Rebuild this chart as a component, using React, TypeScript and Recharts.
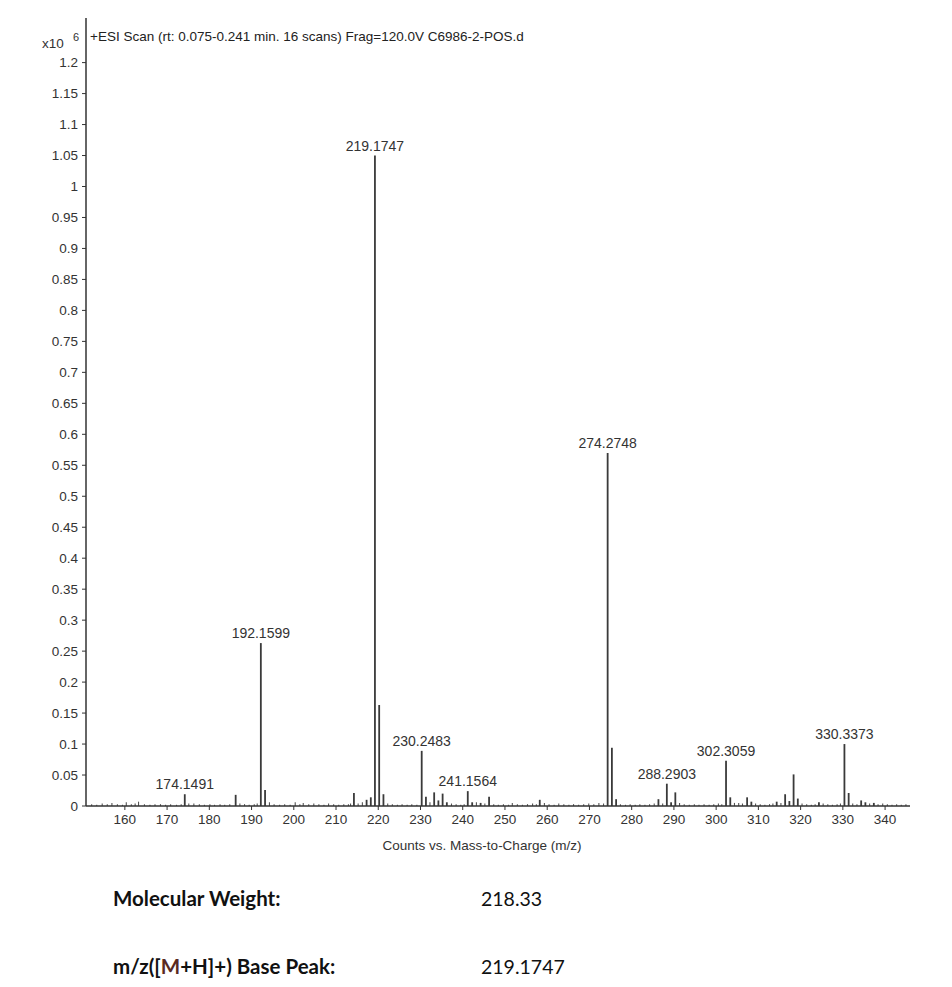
import React from 'react';
import { ComposedChart, Bar, XAxis, YAxis, LabelList } from 'recharts';

// labelled / visible peaks (intensity in x10^6 counts)
const PEAK_MZ = [
  174.1491, 186.2, 192.1599, 193.16, 214.2, 217.2, 218.2, 219.1747, 220.18, 221.19,
  230.2483, 231.25, 233.2, 234.2, 235.2, 236.2, 241.1564, 242.2, 244.2, 246.2,
  258.2, 274.2748, 275.28, 276.28, 286.3, 288.2903, 289.3, 290.3, 302.3059, 303.31,
  307.3, 308.3, 314.3, 316.3, 317.3, 318.3, 319.3, 324.3, 330.3373, 331.34,
  334.3, 335.3, 337.3,
];
const PEAK_INTENSITY = [
  0.019, 0.018, 0.263, 0.026, 0.021, 0.01, 0.014, 1.05, 0.163, 0.019,
  0.089, 0.015, 0.022, 0.009, 0.02, 0.006, 0.024, 0.006, 0.005, 0.015,
  0.01, 0.57, 0.094, 0.011, 0.011, 0.036, 0.006, 0.022, 0.073, 0.014,
  0.014, 0.007, 0.007, 0.019, 0.008, 0.051, 0.012, 0.006, 0.1, 0.021,
  0.009, 0.006, 0.005,
];
const PEAK_LABEL = [
  '174.1491', '', '192.1599', '', '', '', '', '219.1747', '', '',
  '230.2483', '', '', '', '', '', '241.1564', '', '', '',
  '', '274.2748', '', '', '', '288.2903', '', '', '302.3059', '',
  '', '', '', '', '', '', '', '', '330.3373', '',
  '', '', '',
];

// baseline noise
const NOISE_MZ = [
  152.1, 153.3, 154.6, 155.8, 156.9, 158.2, 159.4, 160.3, 161.5, 162.4, 163.2, 164.6, 165.9, 167.1,
  168.4, 169.6, 170.8, 172.2, 173.3, 175.1, 176.3, 177.6, 178.8, 180.1, 181.2, 182.5, 183.6, 184.8,
  187.2, 188.3, 189.4, 190.6, 191.3, 194.2, 195.3, 196.6, 197.8, 199.1, 200.3, 201.4, 202.2, 203.5,
  204.7, 205.9, 207.1, 208.2, 209.4, 210.6, 211.8, 212.9, 213.4, 215.2, 216.2, 222.2, 223.3, 224.5,
  225.6, 226.8, 227.9, 229.1, 232.2, 237.3, 238.4, 239.5, 240.3, 243.2, 245.2, 247.3, 248.4, 249.6,
  250.8, 251.7, 252.9, 254.1, 255.3, 256.5, 257.4, 259.3, 260.4, 261.6, 262.7, 263.9, 265.1, 266.2,
  267.4, 268.6, 269.8, 271.0, 272.2, 273.3, 277.3, 278.5, 279.6, 280.8, 281.9, 283.1, 284.2, 285.3,
  287.3, 291.3, 292.4, 293.6, 294.8, 295.9, 297.1, 298.3, 299.4, 300.5, 301.3, 304.3, 305.3, 306.2,
  309.3, 310.4, 311.5, 312.6, 313.4, 315.3, 320.3, 321.4, 322.5, 323.4, 325.3, 326.4, 327.5, 328.6,
  329.4, 332.3, 333.3, 336.3, 338.3, 339.4, 340.5, 341.6, 342.7, 343.8, 344.9,
];
const NOISE_INTENSITY = [
  0.003, 0.002, 0.004, 0.003, 0.005, 0.003, 0.002, 0.006, 0.003, 0.004, 0.007, 0.003, 0.002, 0.003,
  0.003, 0.002, 0.003, 0.002, 0.003, 0.004, 0.004, 0.003, 0.002, 0.003, 0.002, 0.003, 0.002, 0.003,
  0.004, 0.003, 0.002, 0.003, 0.004, 0.006, 0.003, 0.002, 0.003, 0.002, 0.006, 0.003, 0.005, 0.003,
  0.004, 0.003, 0.002, 0.004, 0.003, 0.002, 0.003, 0.003, 0.004, 0.004, 0.006, 0.004, 0.003, 0.002,
  0.003, 0.002, 0.003, 0.002, 0.006, 0.004, 0.003, 0.002, 0.003, 0.006, 0.004, 0.003, 0.002, 0.003,
  0.002, 0.005, 0.003, 0.002, 0.003, 0.004, 0.003, 0.005, 0.003, 0.002, 0.004, 0.003, 0.002, 0.003,
  0.002, 0.003, 0.004, 0.003, 0.005, 0.004, 0.003, 0.002, 0.003, 0.002, 0.003, 0.002, 0.003, 0.004,
  0.004, 0.005, 0.003, 0.002, 0.003, 0.002, 0.003, 0.002, 0.003, 0.004, 0.003, 0.005, 0.005, 0.004,
  0.004, 0.003, 0.002, 0.003, 0.004, 0.005, 0.004, 0.003, 0.002, 0.003, 0.004, 0.003, 0.002, 0.003,
  0.004, 0.004, 0.003, 0.004, 0.003, 0.004, 0.003, 0.002, 0.003, 0.002, 0.003,
];

const X_TICKS = [160, 170, 180, 190, 200, 210, 220, 230, 240, 250, 260, 270, 280, 290, 300, 310, 320, 330, 340];
const Y_TICKS = [0, 0.05, 0.1, 0.15, 0.2, 0.25, 0.3, 0.35, 0.4, 0.45, 0.5, 0.55, 0.6, 0.65, 0.7, 0.75, 0.8, 0.85, 0.9, 0.95, 1, 1.05, 1.1, 1.15, 1.2];

const FONT = '"Liberation Sans", Arial, sans-serif';
const INK = '#333';
const FS = 13.5;

const data = [
  ...PEAK_MZ.map((mz, i) => ({ mz, v: PEAK_INTENSITY[i], label: PEAK_LABEL[i] || undefined, big: true })),
  ...NOISE_MZ.map((mz, i) => ({ mz, v: NOISE_INTENSITY[i], label: undefined, big: false })),
].sort((a, b) => a.mz - b.mz);

const Stick = (p: any) => {
  const cx = p.x + p.width / 2;
  return (
    <line x1={cx} x2={cx} y1={p.y} y2={p.y + p.height}
      stroke={p.payload.big ? '#3a3a3a' : '#555'} strokeWidth={p.payload.big ? 1.8 : 1.1} />
  );
};

export default function App() {
  return (
    <div style={{ position: 'relative', width: 952, height: 987, background: '#fff', fontFamily: FONT }}>
      <style>{'body{margin:0}'}</style>
      <ComposedChart width={952} height={860} data={data} margin={{ top: 18, right: 42, left: 0, bottom: 24 }}>
        <XAxis dataKey="mz" type="number" domain={[150.8, 345.9]} ticks={X_TICKS} allowDataOverflow
          axisLine={{ stroke: INK, strokeWidth: 1.5 }} tickLine={{ stroke: INK }} tickSize={4} tickMargin={4} height={30}
          tick={{ fill: INK, fontSize: FS, fontFamily: FONT }} />
        <XAxis xAxisId="top" orientation="top" dataKey="mz" type="number" domain={[150.8, 345.9]} height={0}
          tick={false} tickLine={false} axisLine={{ stroke: '#8a8a8a' }} />
        <YAxis type="number" domain={[0, 1.272]} ticks={Y_TICKS} allowDataOverflow width={86}
          axisLine={{ stroke: INK, strokeWidth: 1.5 }} tickLine={{ stroke: INK }} tickSize={4} tickMargin={4}
          tick={{ fill: INK, fontSize: FS, fontFamily: FONT }} />
        <YAxis yAxisId="right" orientation="right" width={0} domain={[0, 1.272]}
          tick={false} tickLine={false} axisLine={{ stroke: '#c9a3a3' }} />
        <Bar dataKey="v" shape={<Stick />} isAnimationActive={false}>
          <LabelList dataKey="label" position="top" offset={5} fill={INK} fontSize={14} fontFamily={FONT} />
        </Bar>
      </ComposedChart>

      <div style={{ position: 'absolute', left: 42, top: 36, fontSize: FS, color: INK }}>x10</div>
      <div style={{ position: 'absolute', left: 73, top: 31, fontSize: 11, color: INK }}>6</div>
      <div style={{ position: 'absolute', left: 90, top: 29, fontSize: FS, color: '#222', whiteSpace: 'nowrap' }}>
        +ESI Scan (rt: 0.075-0.241 min. 16 scans) Frag=120.0V C6986-2-POS.d
      </div>
      <div style={{ position: 'absolute', left: 0, width: 964, top: 838, textAlign: 'center', fontSize: FS, color: INK }}>
        Counts vs. Mass-to-Charge (m/z)
      </div>

      <div style={{ position: 'absolute', left: 113, top: 886, fontFamily: 'Lato, sans-serif', fontSize: 20.5, fontWeight: 700, color: '#111' }}>
        Molecular Weight:
      </div>
      <div style={{ position: 'absolute', left: 481, top: 887, fontFamily: 'Lato, sans-serif', fontSize: 19.5, color: '#111' }}>
        218.33
      </div>
      <div style={{ position: 'absolute', left: 113, top: 954, fontFamily: 'Lato, sans-serif', fontSize: 20.5, fontWeight: 700, color: '#111', whiteSpace: 'nowrap' }}>
        m/z([<span style={{ color: '#5a2a22' }}>M</span>+H]+) Base Peak:
      </div>
      <div style={{ position: 'absolute', left: 481, top: 955, fontFamily: 'Lato, sans-serif', fontSize: 19.5, color: '#111' }}>
        219.1747
      </div>
    </div>
  );
}
